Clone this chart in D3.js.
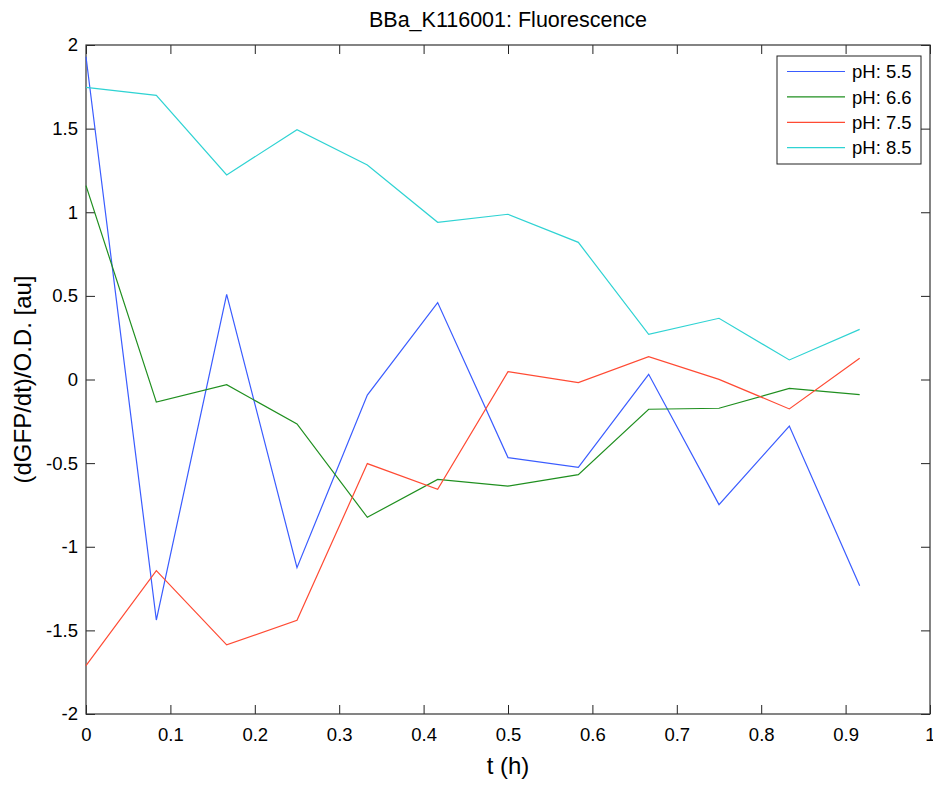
<!DOCTYPE html>
<html>
<head>
<meta charset="utf-8">
<script src="https://cdn.jsdelivr.net/npm/d3@7"></script>
<style>
  html, body { margin: 0; padding: 0; background: #fff; }
  svg { display: block; font-family: "Liberation Sans", Arial, Helvetica, sans-serif; }
</style>
</head>
<body>
<svg id="chart" width="933" height="785"></svg>
<script>
const times = [0, 1/12, 2/12, 3/12, 4/12, 5/12, 6/12, 7/12, 8/12, 9/12, 10/12, 11/12];
const seriesNames = ["pH: 5.5", "pH: 6.6", "pH: 7.5", "pH: 8.5"];
const ph55 = [1.93, -1.438, 0.509, -1.125, -0.093, 0.46, -0.467, -0.525, 0.031, -0.748, -0.278, -1.233];
const ph66 = [1.159, -0.135, -0.031, -0.266, -0.824, -0.597, -0.637, -0.569, -0.178, -0.172, -0.053, -0.091];
const ph75 = [-1.711, -1.143, -1.587, -1.44, -0.503, -0.657, 0.047, -0.019, 0.136, 0.001, -0.176, 0.127];
const ph85 = [1.747, 1.699, 1.223, 1.494, 1.283, 0.94, 0.988, 0.82, 0.27, 0.366, 0.117, 0.30];
const seriesColors = ["#3a5cff", "#1f8f1f", "#ff4a33", "#2fd3d3"];
const xTicks = [0, 0.1, 0.2, 0.3, 0.4, 0.5, 0.6, 0.7, 0.8, 0.9, 1];
const yTicks = [-2, -1.5, -1, -0.5, 0, 0.5, 1, 1.5, 2];
const titleText = "BBa_K116001: Fluorescence";
const xLabel = "t (h)";
const yLabel = "(dGFP/dt)/O.D. [au]";

const allSeries = [ph55, ph66, ph75, ph85];

const svg = d3.select("#chart");
const L = 86, R = 930, T = 45, B = 714;

const x = d3.scaleLinear().domain([0, 1]).range([L, R]);
const y = d3.scaleLinear().domain([-2, 2]).range([B, T]);

const tickLen = 9;
const fmt = d => String(d);

// bottom axis
const gBottom = svg.append("g").attr("transform", `translate(0,${B})`)
  .call(d3.axisBottom(x).tickValues(xTicks).tickFormat(fmt).tickSizeInner(-tickLen).tickSizeOuter(0).tickPadding(14));
// top axis (mirrored ticks, no labels)
const gTop = svg.append("g").attr("transform", `translate(0,${T})`)
  .call(d3.axisTop(x).tickValues(xTicks).tickFormat("").tickSizeInner(-tickLen).tickSizeOuter(0));
// left axis
const gLeft = svg.append("g").attr("transform", `translate(${L},0)`)
  .call(d3.axisLeft(y).tickValues(yTicks).tickFormat(fmt).tickSizeInner(-tickLen).tickSizeOuter(0).tickPadding(8));
// right axis
const gRight = svg.append("g").attr("transform", `translate(${R},0)`)
  .call(d3.axisRight(y).tickValues(yTicks).tickFormat("").tickSizeInner(-tickLen).tickSizeOuter(0));

[gBottom, gTop, gLeft, gRight].forEach(g => {
  g.select(".domain").remove();
  g.selectAll(".tick line").attr("stroke", "#222").attr("stroke-width", 1);
  g.selectAll("text").attr("fill", "#000").style("font-size", "18.5px")
    .style("font-family", "'Liberation Sans', Arial, sans-serif");
});
gBottom.selectAll(".tick text").attr("dy", "0.71em");

// plot box
svg.append("rect")
  .attr("x", L).attr("y", T).attr("width", R - L).attr("height", B - T)
  .attr("fill", "none").attr("stroke", "#333").attr("stroke-width", 1.2);

// lines
const line = d3.line().x((d, i) => x(times[i])).y(d => y(d));
allSeries.forEach((s, k) => {
  svg.append("path").datum(s)
    .attr("d", line)
    .attr("fill", "none")
    .attr("stroke", seriesColors[k])
    .attr("stroke-width", 1.2);
});

// title
svg.append("text").attr("x", (L + R) / 2).attr("y", 27)
  .attr("text-anchor", "middle").style("font-size", "21.5px").attr("fill", "#000")
  .text(titleText);

// x label
svg.append("text").attr("x", (L + R) / 2).attr("y", 774)
  .attr("text-anchor", "middle").style("font-size", "24px").attr("fill", "#000")
  .text(xLabel);

// y label
svg.append("text").attr("transform", `translate(31,${(T + B) / 2}) rotate(-90)`)
  .attr("text-anchor", "middle").style("font-size", "24px").attr("fill", "#000")
  .text(yLabel);

// legend
const lg = svg.append("g");
const lgX = 777, lgY = 56, lgW = 144, lgH = 108;
lg.append("rect").attr("x", lgX).attr("y", lgY).attr("width", lgW).attr("height", lgH)
  .attr("fill", "#fff").attr("stroke", "#222").attr("stroke-width", 1);
seriesNames.forEach((name, k) => {
  const cy = 71.5 + k * 25.4;
  lg.append("line").attr("x1", 787).attr("x2", 845).attr("y1", cy).attr("y2", cy)
    .attr("stroke", seriesColors[k]).attr("stroke-width", 1.2);
  lg.append("text").attr("x", 852).attr("y", cy).attr("dy", "0.36em")
    .style("font-size", "18.5px").attr("fill", "#000").text(name);
});
</script>
</body>
</html>
